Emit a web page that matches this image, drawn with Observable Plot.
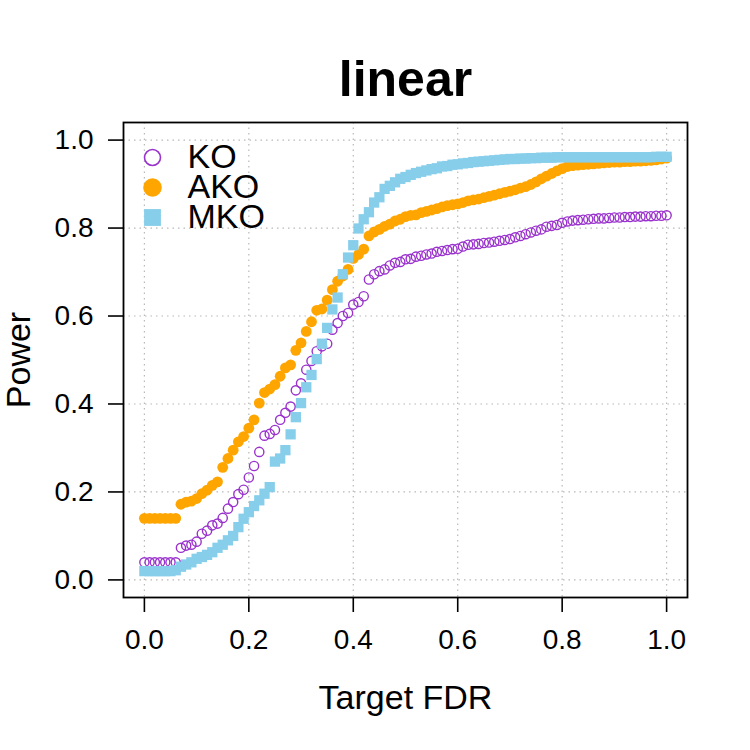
<!DOCTYPE html>
<html>
<head>
<meta charset="utf-8">
<script src="https://cdn.jsdelivr.net/npm/d3@7"></script>
<script src="https://cdn.jsdelivr.net/npm/@observablehq/plot@0.6"></script>
<style>
  html, body { margin: 0; padding: 0; background: #fff; }
</style>
</head>
<body>
<div id="chart"></div>
<script>
// Target FDR levels at which power was evaluated
const targetFdr = [
  0.00, 0.01, 0.02, 0.03, 0.04, 0.05, 0.06, 0.07, 0.08, 0.09,
  0.10, 0.11, 0.12, 0.13, 0.14, 0.15, 0.16, 0.17, 0.18, 0.19,
  0.20, 0.21, 0.22, 0.23, 0.24, 0.25, 0.26, 0.27, 0.28, 0.29,
  0.30, 0.31, 0.32, 0.33, 0.34, 0.35, 0.36, 0.37, 0.38, 0.39,
  0.40, 0.41, 0.42, 0.43, 0.44, 0.45, 0.46, 0.47, 0.48, 0.49,
  0.50, 0.51, 0.52, 0.53, 0.54, 0.55, 0.56, 0.57, 0.58, 0.59,
  0.60, 0.61, 0.62, 0.63, 0.64, 0.65, 0.66, 0.67, 0.68, 0.69,
  0.70, 0.71, 0.72, 0.73, 0.74, 0.75, 0.76, 0.77, 0.78, 0.79,
  0.80, 0.81, 0.82, 0.83, 0.84, 0.85, 0.86, 0.87, 0.88, 0.89,
  0.90, 0.91, 0.92, 0.93, 0.94, 0.95, 0.96, 0.97, 0.98, 0.99,
  1.00
];

// Power of the plain knockoff filter
const powerKO = [
  0.040, 0.040, 0.040, 0.040, 0.040, 0.040, 0.040, 0.073, 0.078, 0.080,
  0.087, 0.105, 0.112, 0.124, 0.128, 0.141, 0.162, 0.177, 0.195, 0.205,
  0.233, 0.259, 0.291, 0.328, 0.332, 0.341, 0.364, 0.380, 0.394, 0.431,
  0.447, 0.478, 0.498, 0.520, 0.531, 0.537, 0.569, 0.584, 0.600, 0.607,
  0.626, 0.632, 0.645, 0.683, 0.695, 0.702, 0.706, 0.715, 0.721, 0.723,
  0.729, 0.730, 0.735, 0.737, 0.740, 0.742, 0.746, 0.748, 0.750, 0.752,
  0.753, 0.758, 0.762, 0.763, 0.764, 0.766, 0.767, 0.769, 0.771, 0.773,
  0.775, 0.779, 0.782, 0.786, 0.790, 0.794, 0.797, 0.803, 0.805, 0.807,
  0.812, 0.815, 0.817, 0.818, 0.819, 0.820, 0.821, 0.822, 0.822, 0.823,
  0.824, 0.824, 0.825, 0.825, 0.826, 0.826, 0.827, 0.827, 0.828, 0.828,
  0.829
];

// Power of aggregated knockoffs
const powerAKO = [
  0.140, 0.140, 0.140, 0.140, 0.140, 0.140, 0.140, 0.172, 0.177, 0.179,
  0.185, 0.196, 0.204, 0.215, 0.223, 0.256, 0.276, 0.295, 0.314, 0.326,
  0.345, 0.364, 0.402, 0.426, 0.434, 0.444, 0.463, 0.482, 0.489, 0.522,
  0.539, 0.565, 0.587, 0.613, 0.616, 0.636, 0.660, 0.679, 0.691, 0.706,
  0.731, 0.740, 0.752, 0.782, 0.791, 0.797, 0.804, 0.809, 0.816, 0.820,
  0.826, 0.829, 0.830, 0.835, 0.838, 0.841, 0.844, 0.848, 0.851, 0.853,
  0.855, 0.858, 0.862, 0.864, 0.866, 0.869, 0.872, 0.875, 0.878, 0.881,
  0.884, 0.887, 0.891, 0.894, 0.899, 0.905, 0.912, 0.918, 0.924, 0.930,
  0.935, 0.940, 0.942, 0.943, 0.944, 0.945, 0.946, 0.947, 0.948, 0.949,
  0.950, 0.950, 0.951, 0.951, 0.952, 0.952, 0.953, 0.954, 0.955, 0.957,
  0.959
];

// Power of multiple knockoffs
const powerMKO = [
  0.020, 0.020, 0.020, 0.020, 0.020, 0.020, 0.022, 0.030, 0.035, 0.040,
  0.048, 0.052, 0.057, 0.063, 0.073, 0.080, 0.090, 0.100, 0.120, 0.139,
  0.154, 0.168, 0.181, 0.196, 0.211, 0.269, 0.276, 0.295, 0.331, 0.370,
  0.402, 0.438, 0.466, 0.502, 0.537, 0.573, 0.615, 0.642, 0.695, 0.733,
  0.761, 0.799, 0.820, 0.836, 0.858, 0.870, 0.889, 0.896, 0.904, 0.912,
  0.916, 0.921, 0.925, 0.928, 0.931, 0.934, 0.936, 0.940, 0.941, 0.944,
  0.945, 0.947, 0.948, 0.950, 0.951, 0.952, 0.953, 0.954, 0.955, 0.956,
  0.957, 0.957, 0.958, 0.958, 0.959, 0.959, 0.960, 0.960, 0.960, 0.961,
  0.961, 0.961, 0.961, 0.961, 0.961, 0.961, 0.961, 0.961, 0.961, 0.961,
  0.961, 0.961, 0.961, 0.961, 0.961, 0.961, 0.961, 0.961, 0.962, 0.962,
  0.962
];

const methods = ["KO", "AKO", "MKO"];
const tickValues = [0, 0.2, 0.4, 0.6, 0.8, 1.0];
const titleText = "linear";
const xLabel = "Target FDR";
const yLabel = "Power";

const colors = {KO: "#9a32cd", AKO: "#ffa500", MKO: "#87ceeb"};

const rows = (values) => targetFdr.map((f, i) => ({fdr: f, power: values[i]}));
const koRows = rows(powerKO);
const akoRows = rows(powerAKO);
const mkoRows = rows(powerMKO);

const font = "'Liberation Sans', Arial, Helvetica, sans-serif";

// one legend entry: symbol plus label, stacked from the top-left corner of the frame
function legendEntry(name, i, symbolOpts) {
  const dy = 35 + i * 30;
  return [
    Plot.dot([name], {frameAnchor: "top-left", dx: 29, dy, ...symbolOpts}),
    Plot.text([name], {frameAnchor: "top-left", dx: 64, dy, text: d => d,
      textAnchor: "start", lineAnchor: "middle", fontSize: 34, fill: "black"})
  ];
}

const chart = Plot.plot({
  width: 750,
  height: 750,
  marginLeft: 123,
  marginRight: 63,
  marginTop: 122,
  marginBottom: 153,
  style: {fontFamily: font, background: "white", color: "black", overflow: "visible"},
  x: {domain: [-0.04, 1.04]},
  y: {domain: [-0.04, 1.04]},
  marks: [
    Plot.gridX(tickValues, {stroke: "#b8b8b8", strokeOpacity: 1, strokeDasharray: "1.5,4", strokeWidth: 1.2}),
    Plot.gridY(tickValues, {stroke: "#b8b8b8", strokeOpacity: 1, strokeDasharray: "1.5,4", strokeWidth: 1.2}),
    Plot.axisX(tickValues, {tickSize: 15, tickPadding: 17, fontSize: 28, strokeWidth: 1.6,
      tickFormat: d3.format(".1f"), label: null}),
    Plot.axisY(tickValues, {tickSize: 15, tickPadding: 15, fontSize: 28, strokeWidth: 1.6,
      tickFormat: d3.format(".1f"), label: null}),
    Plot.frame({stroke: "black", strokeWidth: 1.8}),

    // data series
    Plot.dot(koRows, {x: "fdr", y: "power", r: 4.6, stroke: colors.KO, strokeWidth: 1.4, fill: "none"}),
    Plot.dot(akoRows, {x: "fdr", y: "power", r: 5.4, fill: colors.AKO, stroke: "none"}),
    Plot.dot(mkoRows, {x: "fdr", y: "power", symbol: "square", r: 5.8, fill: colors.MKO, stroke: "none"}),

    // legend
    ...legendEntry(methods[0], 0, {r: 8, stroke: colors.KO, strokeWidth: 1.6, fill: "none"}),
    ...legendEntry(methods[1], 1, {r: 9.3, fill: colors.AKO, stroke: "none"}),
    ...legendEntry(methods[2], 2, {symbol: "square", r: 9.5, fill: colors.MKO, stroke: "none"}),

    // title and axis titles
    Plot.text([titleText], {frameAnchor: "top", dy: -43, text: d => d,
      lineAnchor: "middle", textAnchor: "middle",
      fontSize: 50, fontWeight: "bold", fill: "black"}),
    Plot.text([xLabel], {frameAnchor: "bottom", dy: 101, text: d => d,
      lineAnchor: "middle", textAnchor: "middle", fontSize: 34, fill: "black"}),
    Plot.text([yLabel], {frameAnchor: "left", dx: -104, rotate: -90, text: d => d,
      lineAnchor: "middle", textAnchor: "middle", fontSize: 34, fill: "black"})
  ]
});

document.getElementById("chart").appendChild(chart);
</script>
</body>
</html>
